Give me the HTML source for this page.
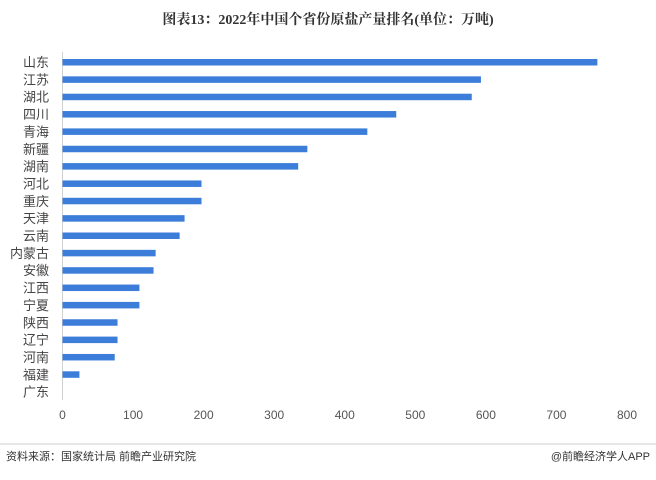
<!DOCTYPE html>
<html><head><meta charset="utf-8"><style>
body{margin:0;background:#fff;width:656px;height:475px;overflow:hidden;font-family:"Liberation Sans","Noto Sans CJK SC",sans-serif}
</style></head><body>
<svg width="656" height="475">
<text x="328" y="24" text-anchor="middle" font-size="14" font-weight="bold" fill="#333" font-family="Liberation Serif,Noto Serif CJK SC,serif">图表13：2022年中国个省份原盐产量排名(单位：万吨)</text>
<line x1="62.5" y1="52" x2="62.5" y2="400" stroke="#d0d0d0"/>
<g id="bars"></g><g id="ylabels"></g><g id="xticks"></g>
<line x1="0" y1="444" x2="656" y2="444" stroke="#ccc"/>
<text x="6" y="460" font-size="11" fill="#333">资料来源：国家统计局 前瞻产业研究院</text>
<text x="650" y="460" font-size="11" fill="#333" text-anchor="end">@前瞻经济学人APP</text>
</svg>
<script>
const categories=["山东","江苏","湖北","四川","青海","新疆","湖南","河北","重庆","天津","云南","内蒙古","安徽","江西","宁夏","陕西","辽宁","河南","福建","广东"];
const values=[758,593,580,473,432,347,334,197,197,173,166,132,129,109,109,78,78,74,24,0];
const ticks=[0,100,200,300,400,500,600,700,800];
const NS="http://www.w3.org/2000/svg";
const x=v=>62.5+v*(627-62.5)/800;
const y=i=>59+i*17.35;
const bars=document.getElementById('bars'),yl=document.getElementById('ylabels'),xt=document.getElementById('xticks');
categories.forEach((c,i)=>{
 const r=document.createElementNS(NS,'rect');
 r.setAttribute('x',x(0));r.setAttribute('y',y(i));r.setAttribute('width',Math.max(0,x(values[i])-x(0)));r.setAttribute('height',6.5);r.setAttribute('fill','#3b7dd8');
 
 
 bars.appendChild(r);
 const t=document.createElementNS(NS,'text');
 t.setAttribute('x',49);t.setAttribute('y',y(i)+8);t.setAttribute('text-anchor','end');t.setAttribute('font-size','13');t.setAttribute('fill','#444');
 t.textContent=c;
 
 
 yl.appendChild(t);
});
ticks.forEach(v=>{
 const t=document.createElementNS(NS,'text');
 t.setAttribute('x',x(v));t.setAttribute('y',419);t.setAttribute('text-anchor','middle');t.setAttribute('font-size','12');t.setAttribute('fill','#555');
 t.textContent=v;
 
 
 xt.appendChild(t);
});
</script>
</body></html>
